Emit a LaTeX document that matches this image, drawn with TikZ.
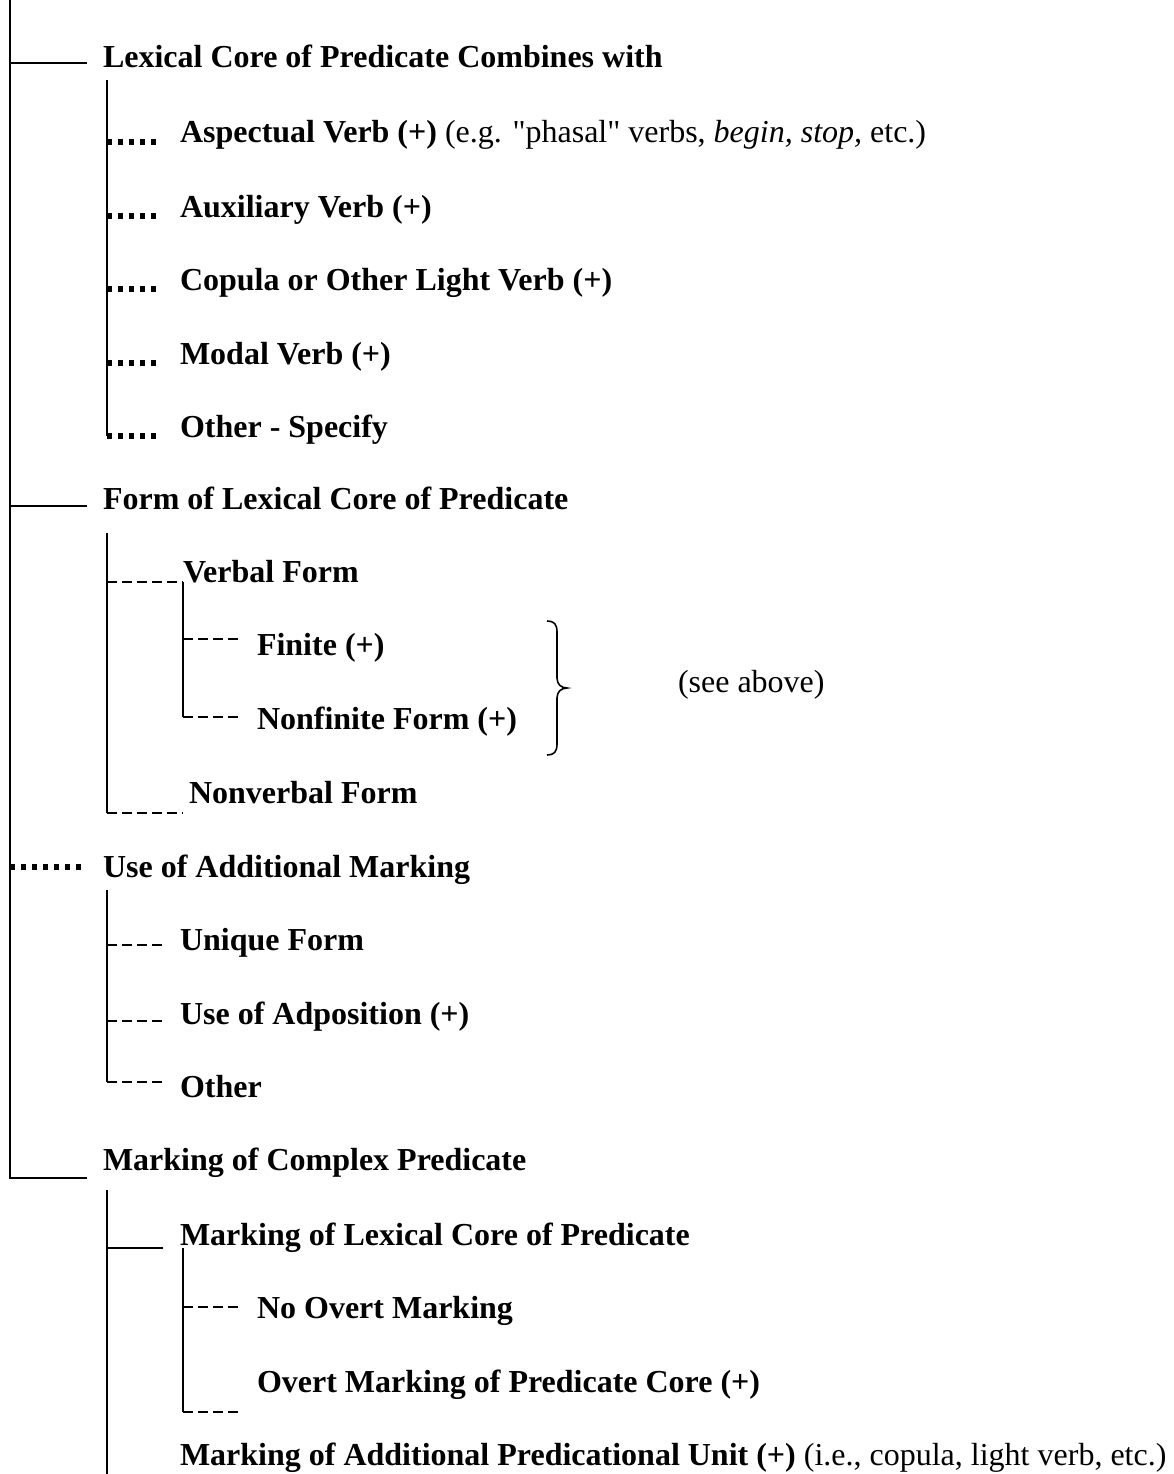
\documentclass[tikz,border=0pt]{standalone}
\usepackage{fontspec}
\setmainfont{Liberation Serif}[Ligatures=TeXOff]
\begin{document}
\begin{tikzpicture}[x=1pt,y=-1pt,
  every node/.style={anchor=base west,inner sep=0pt,outer sep=0pt,
    font=\fontsize{32}{38}\selectfont},
  label/.style={font=\fontsize{32}{38}\selectfont\bfseries},
  tree/.style={line width=2pt},
  dashlink/.style={line width=1.8pt,dash pattern=on 10pt off 5pt},
  dotlink/.style={line width=5.5pt,dash pattern=on 5pt off 6pt},
  bracepath/.style={line width=1.6pt}]
\useasboundingbox (0,0) rectangle (1173,1474);

% ---- labels ----
\node[label] (lex)   at (103,68)  {Lexical Core of Predicate Combines with};
\node[label] (asp)   at (180,143) {Aspectual Verb (+) \mdseries(e.g. "phasal" verbs, \textit{begin, stop,} etc.)};
\node[label] (aux)   at (180,217) {Auxiliary Verb (+)};
\node[label] (cop)   at (180,290) {Copula or Other Light Verb (+)};
\node[label] (mod)   at (180,364) {Modal Verb (+)};
\node[label] (oth1)  at (180,437) {Other - Specify};
\node[label] (form)  at (103,509) {Form of Lexical Core of Predicate};
\node[label] (verb)  at (183,582) {Verbal Form};
\node[label] (fin)   at (257,655) {Finite (+)};
\node[label] (nfin)  at (257,729) {Nonfinite Form (+)};
\node[label] (nverb) at (189,803) {Nonverbal Form};
\node         (see)  at (678,692) {(see above)};
\node[label] (use)   at (103,877) {Use of Additional Marking};
\node[label] (uniq)  at (180,950) {Unique Form};
\node[label] (adp)   at (180,1024) {Use of Adposition (+)};
\node[label] (oth2)  at (180,1097) {Other};
\node[label] (cplx)  at (103,1170) {Marking of Complex Predicate};
\node[label] (mlex)  at (180,1245) {Marking of Lexical Core of Predicate};
\node[label] (novt)  at (257,1318) {No Overt Marking};
\node[label] (ovt)   at (257,1392) {Overt Marking of Predicate Core (+)};
\node[label] (madd)  at (180,1465) {Marking of Additional Predicational Unit (+) \mdseries(i.e., copula, light verb, etc.)};

% ---- junction points ----
\coordinate (top)  at (10,0);
\coordinate (t1)   at (10,63);    \coordinate (e1) at (87,63);
\coordinate (t2)   at (10,506);   \coordinate (e2) at (87,506);
\coordinate (t3)   at (10,867);   \coordinate (e3) at (84,867);
\coordinate (t4)   at (10,1178);  \coordinate (e4) at (87,1178);

\coordinate (a0) at (107,80);
\foreach \n/\y in {1/142,2/216,3/289,4/363,5/436}{
  \coordinate (a\n) at (107,\y);
  \coordinate (ae\n) at (158,\y);
}
\coordinate (b0) at (107,533);
\coordinate (b1) at (107,582);  \coordinate (b1e) at (183,582);
\coordinate (b2) at (107,813);  \coordinate (b2e) at (183,813);
\coordinate (v1) at (183,639);  \coordinate (v1e) at (242,639);
\coordinate (v2) at (183,717);  \coordinate (v2e) at (242,717);

\coordinate (c0) at (107,890);
\coordinate (c1) at (107,945);  \coordinate (c1e) at (163,945);
\coordinate (c2) at (107,1021); \coordinate (c2e) at (163,1021);
\coordinate (c3) at (107,1082); \coordinate (c3e) at (163,1082);

\coordinate (d0) at (107,1190);
\coordinate (d1) at (107,1248); \coordinate (d1e) at (163,1248);
\coordinate (dB) at (107,1474);
\coordinate (m0) at (183,1248);
\coordinate (m1) at (183,1307); \coordinate (m1e) at (240,1307);
\coordinate (m2) at (183,1412); \coordinate (m2e) at (240,1412);

% ---- trunk ----
\draw[tree] (top) -- (t4) -- (e4);
\draw[tree] (t1) -- (e1);
\draw[tree] (t2) -- (e2);
\draw[dotlink] (t3) -- (e3);

% ---- Lexical Core of Predicate Combines with ----
\draw[tree] (a0) -- (a5);
\foreach \n in {1,...,5}{\draw[dotlink] (a\n) -- (ae\n);}

% ---- Form of Lexical Core of Predicate ----
\draw[tree] (b0) -- (b2);
\draw[dashlink] (b1) -- (b1e);
\draw[dashlink] (b2) -- (b2e);
\draw[tree] (b1e) -- (v2);
\draw[dashlink] (v1) -- (v1e);
\draw[dashlink] (v2) -- (v2e);

% brace grouping Finite / Nonfinite
\draw[bracepath] (547,621) .. controls (554,621) and (557,624) .. (557,632)
  -- (557,678) .. controls (557,684) and (561,688) .. (567,688)
  .. controls (561,688) and (557,692) .. (557,698)
  -- (557,744) .. controls (557,752) and (554,755) .. (547,755);

% ---- Use of Additional Marking ----
\draw[tree] (c0) -- (c3);
\draw[dashlink] (c1) -- (c1e);
\draw[dashlink] (c2) -- (c2e);
\draw[dashlink] (c3) -- (c3e);

% ---- Marking of Complex Predicate ----
\draw[tree] (d0) -- (dB);
\draw[tree] (d1) -- (d1e);
\draw[tree] (m0) -- (m2);
\draw[dashlink] (m1) -- (m1e);
\draw[dashlink] (m2) -- (m2e);
\end{tikzpicture}
\end{document}
